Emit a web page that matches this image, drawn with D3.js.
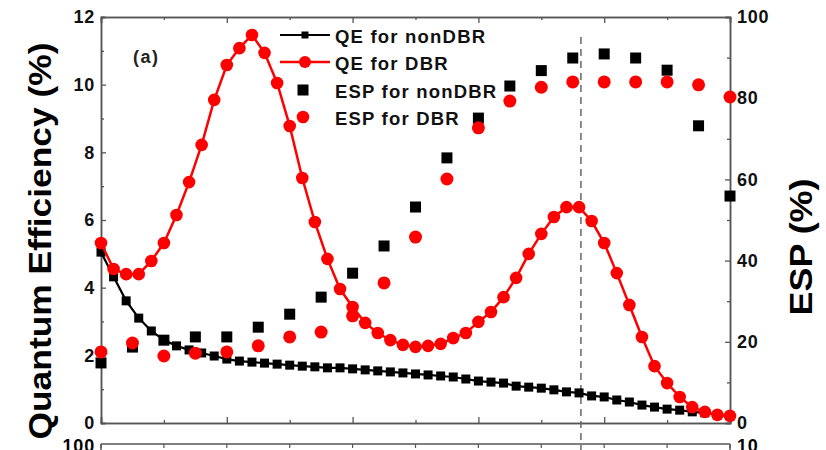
<!DOCTYPE html>
<html><head><meta charset="utf-8">
<script src="https://cdn.jsdelivr.net/npm/d3@7"></script>
<style>
html,body{margin:0;padding:0;background:#fff;}
svg{display:block;font-family:"Liberation Sans",Arial,sans-serif;font-weight:bold;}
</style></head>
<body>
<svg id="c" width="826" height="450"></svg>
<script>
// ---- data ----
const xQE = [0,0.2,0.4,0.6,0.8,1.0,1.2,1.4,1.6,1.8,2.0,2.2,2.4,2.6,2.8,3.0,3.2,3.4,3.6,3.8,4.0,4.2,4.4,4.6,4.8,5.0,5.2,5.4,5.6,5.8,6.0,6.2,6.4,6.6,6.8,7.0,7.2,7.4,7.6,7.8,8.0,8.2,8.4,8.6,8.8,9.0,9.2,9.4,9.6,9.8,10.0];
const qeNonDBR = [5.05,4.32,3.61,3.10,2.72,2.45,2.28,2.16,2.07,1.98,1.89,1.83,1.80,1.77,1.74,1.71,1.68,1.66,1.63,1.63,1.60,1.57,1.54,1.51,1.48,1.45,1.42,1.39,1.36,1.30,1.24,1.21,1.18,1.09,1.06,1.03,0.98,0.92,0.89,0.80,0.77,0.68,0.62,0.53,0.47,0.41,0.38,0.33,0.30,0.24,0.21];
const qeDBR = [5.32,4.55,4.40,4.40,4.79,5.32,6.15,7.12,8.22,9.55,10.58,11.08,11.47,10.94,10.05,8.78,7.24,5.94,4.85,3.96,3.43,2.96,2.66,2.45,2.31,2.25,2.28,2.34,2.51,2.66,2.99,3.28,3.72,4.29,5.00,5.59,6.09,6.38,6.38,5.97,5.32,4.43,3.49,2.54,1.68,1.18,0.77,0.47,0.33,0.24,0.21];
const xESP = [0,0.5,1.0,1.5,2.0,2.5,3.0,3.5,4.0,4.5,5.0,5.5,6.0,6.5,7.0,7.5,8.0,8.5,9.0,9.5,10.0];
const espNonDBR = [14.8,18.7,20.4,21.2,21.2,23.6,26.8,31.0,36.9,43.6,53.2,65.3,75.1,83.0,86.8,89.9,90.9,89.9,86.9,73.2,55.9];
const espDBR = [17.5,19.7,16.5,17.2,17.5,19.0,21.2,22.4,26.4,34.5,45.8,60.1,72.7,79.3,82.7,84.0,84.0,84.0,84.0,83.3,80.3];
const refLineX = [7.63];
const leftTicks = [0,2,4,6,8,10,12];
const leftMinor = [1,3,5,7,9,11];
const rightTicks = [0,20,40,60,80,100];
const rightMinor = [10,30,50,70,90];
const xMajor = [0,2,4,6,8,10];
const xMinor = [1,3,5,7,9];
const legendLabels = ["QE for nonDBR","QE for DBR","ESP for nonDBR","ESP for DBR"];
const panelLabel = "(a)";
const yTitleLeft = "Quantum Efficiency (%)";
const yTitleRight = "ESP (%)";
const nextPanelLabels = ["100","10"];

// ---- layout ----
const L=101, R=730, T=17, B=423;
const svg = d3.select("#c");
const x = d3.scaleLinear().domain([0,10]).range([L,R]);
const yL = d3.scaleLinear().domain([0,12]).range([B,T]);
const yR = d3.scaleLinear().domain([0,100]).range([B,T]);
const axisCol = "#555";

function styleAxis(g){
  g.select(".domain").attr("stroke",axisCol).attr("stroke-width",1.5);
  g.selectAll(".tick line").attr("stroke",axisCol).attr("stroke-width",1.3);
  g.selectAll("text").attr("fill","#111").attr("font-size","18px").attr("font-weight","bold")
    .attr("font-family","'Liberation Sans',Arial,sans-serif").style("letter-spacing","0.8px");
}

// lower panel frame (partially visible)
const lowY = 444;
svg.append("line").attr("x1",L).attr("x2",R).attr("y1",lowY).attr("y2",lowY).attr("stroke",axisCol).attr("stroke-width",1.5);
svg.append("line").attr("x1",L).attr("x2",L).attr("y1",lowY).attr("y2",450).attr("stroke",axisCol).attr("stroke-width",1.5);
svg.append("line").attr("x1",R).attr("x2",R).attr("y1",lowY).attr("y2",450).attr("stroke",axisCol).attr("stroke-width",1.5);
svg.selectAll(".lowtick").data(xMajor.concat(xMinor)).enter().append("line")
  .attr("x1",d=>x(d)).attr("x2",d=>x(d)).attr("y1",lowY).attr("y2",lowY+4).attr("stroke",axisCol).attr("stroke-width",1.2);
svg.append("text").attr("x",95).attr("y",lowY+2).attr("text-anchor","end").attr("dominant-baseline","central")
  .attr("font-size","18px").style("letter-spacing","0.8px").text(nextPanelLabels[0]);
svg.append("text").attr("x",737).attr("y",lowY+2).attr("dominant-baseline","central")
  .attr("font-size","18px").style("letter-spacing","0.8px").text(nextPanelLabels[1]);

// axes
const gB = svg.append("g").attr("transform",`translate(0,${B})`).call(d3.axisBottom(x).tickValues(xMajor).tickSize(-6).tickFormat(""));
styleAxis(gB);
const gBm = svg.append("g").attr("transform",`translate(0,${B})`).call(d3.axisBottom(x).tickValues(xMinor).tickSize(-3).tickFormat(""));
styleAxis(gBm);
const gT = svg.append("g").attr("transform",`translate(0,${T})`).call(d3.axisTop(x).tickValues(xMajor).tickSize(-6).tickFormat(""));
styleAxis(gT);
const gTm = svg.append("g").attr("transform",`translate(0,${T})`).call(d3.axisTop(x).tickValues(xMinor).tickSize(-3).tickFormat(""));
styleAxis(gTm);
const gL = svg.append("g").attr("transform",`translate(${L},0)`).call(d3.axisLeft(yL).tickValues(leftTicks).tickSize(-5).tickPadding(6));
styleAxis(gL);
const gLm = svg.append("g").attr("transform",`translate(${L},0)`).call(d3.axisLeft(yL).tickValues(leftMinor).tickSize(-3).tickFormat(""));
styleAxis(gLm);
const gR = svg.append("g").attr("transform",`translate(${R},0)`).call(d3.axisRight(yR).tickValues(rightTicks).tickSize(-5).tickPadding(7));
styleAxis(gR);
const gRm = svg.append("g").attr("transform",`translate(${R},0)`).call(d3.axisRight(yR).tickValues(rightMinor).tickSize(-3).tickFormat(""));
styleAxis(gRm);

// dashed reference line
svg.selectAll(".ref").data(refLineX).enter().append("line")
  .attr("x1",d=>x(d)).attr("x2",d=>x(d)).attr("y1",37).attr("y2",450)
  .attr("stroke","#666").attr("stroke-width",1.5).attr("stroke-dasharray","7,5");

// data
const qeN = xQE.map((t,i)=>({t, v:qeNonDBR[i]}));
const qeD = xQE.map((t,i)=>({t, v:qeDBR[i]}));
const esN = xESP.map((t,i)=>({t, v:espNonDBR[i]}));
const esD = xESP.map((t,i)=>({t, v:espDBR[i]}));
const lineL = d3.line().x(d=>x(d.t)).y(d=>yL(d.v));

// QE nonDBR
svg.append("path").datum(qeN).attr("d",lineL).attr("fill","none").attr("stroke","#000").attr("stroke-width",2.2);
svg.selectAll(".qn").data(qeN).enter().append("rect")
  .attr("x",d=>x(d.t)-4.5).attr("y",d=>yL(d.v)-4.5).attr("width",9).attr("height",9).attr("fill","#000");
// ESP nonDBR
svg.selectAll(".en").data(esN).enter().append("rect")
  .attr("x",d=>x(d.t)-5.5).attr("y",d=>yR(d.v)-5.5).attr("width",11).attr("height",11).attr("fill","#000");
// QE DBR
svg.append("path").datum(qeD).attr("d",lineL).attr("fill","none").attr("stroke","#f00").attr("stroke-width",2.5);
svg.selectAll(".qd").data(qeD).enter().append("circle")
  .attr("cx",d=>x(d.t)).attr("cy",d=>yL(d.v)).attr("r",6.3).attr("fill","#f00");
// ESP DBR
svg.selectAll(".ed").data(esD).enter().append("circle")
  .attr("cx",d=>x(d.t)).attr("cy",d=>yR(d.v)).attr("r",6.5).attr("fill","#f00");

// legend
const legY = [35,62,90,117];
const lg = svg.append("g");
lg.append("line").attr("x1",280).attr("x2",330).attr("y1",legY[0]).attr("y2",legY[0]).attr("stroke","#000").attr("stroke-width",2.2);
lg.append("rect").attr("x",305-3.5).attr("y",legY[0]-3.5).attr("width",7).attr("height",7).attr("fill","#000");
lg.append("line").attr("x1",280).attr("x2",330).attr("y1",legY[1]).attr("y2",legY[1]).attr("stroke","#f00").attr("stroke-width",2.5);
lg.append("circle").attr("cx",305).attr("cy",legY[1]).attr("r",6).attr("fill","#f00");
lg.append("rect").attr("x",303-5.5).attr("y",legY[2]-5.5).attr("width",11).attr("height",11).attr("fill","#000");
lg.append("circle").attr("cx",303).attr("cy",legY[3]).attr("r",6.3).attr("fill","#f00");
lg.selectAll(".lt").data(legendLabels).enter().append("text")
  .attr("x",335).attr("y",(d,i)=>legY[i]+1).attr("dominant-baseline","central")
  .attr("font-size","18.5px").style("letter-spacing","1.2px").attr("fill","#111").text(d=>d);

// panel label
svg.append("text").attr("x",133).attr("y",57).attr("dominant-baseline","central")
  .attr("font-size","18px").style("letter-spacing","1.5px").attr("fill","#222").text(panelLabel);

// axis titles
svg.append("text").attr("transform","translate(51,241) rotate(-90)").attr("text-anchor","middle")
  .attr("font-size","31px").attr("textLength",397).attr("lengthAdjust","spacingAndGlyphs").attr("fill","#000").text(yTitleLeft);
svg.append("text").attr("transform","translate(812,247) rotate(-90)").attr("text-anchor","middle")
  .attr("font-size","31px").attr("textLength",137).attr("lengthAdjust","spacingAndGlyphs").attr("fill","#000").text(yTitleRight);
</script>
</body></html>
